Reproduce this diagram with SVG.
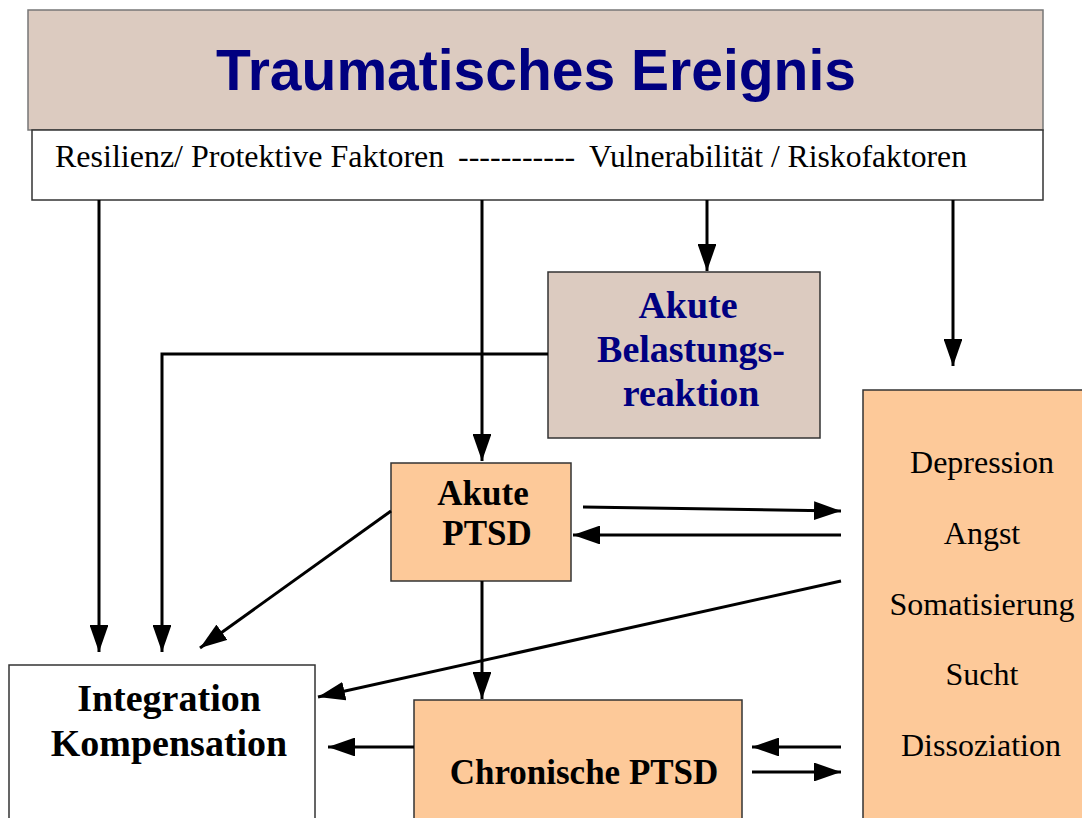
<svg xmlns="http://www.w3.org/2000/svg" width="1082" height="818" viewBox="0 0 1082 818">
<style>
.box{stroke:#333;stroke-width:1.5}
.tan{fill:#dccbc0}
.peach{fill:#fdc999}
.white{fill:#fff}
.ser{font-family:"Liberation Serif","Times New Roman",serif}
.b{font-weight:bold}
.navy{fill:#000080}
.c{text-anchor:middle}
.ln{stroke:#000;stroke-width:3;fill:none}
</style>
<defs>
<marker id="ah" viewBox="0 0 10 7" refX="10" refY="3.5" markerWidth="9" markerHeight="6.3" markerUnits="strokeWidth" orient="auto">
<path d="M0,0 L10,3.5 L0,7 Z" fill="#000"/>
</marker>
</defs>
<g id="title">
<rect class="box tan" x="28" y="10" width="1015" height="120" style="stroke:#777"/>
<text x="536" y="90" class="c b navy" font-family="Liberation Sans, Arial, sans-serif" font-size="57">Traumatisches Ereignis</text>
</g>
<g id="factors">
<rect class="box white" x="32" y="130" width="1011" height="70"/>
<text x="55" y="167" class="ser" font-size="32">Resilienz/ Protektive Faktoren</text>
<text x="458" y="167" class="ser" font-size="32">-----------</text>
<text x="589" y="167" class="ser" font-size="32" textLength="378" lengthAdjust="spacingAndGlyphs">Vulnerabilität / Riskofaktoren</text>
</g>
<g id="abr">
<rect class="box tan" x="548" y="272" width="272" height="166"/>
<text class="ser b navy c" font-size="38"><tspan x="688" y="318">Akute</tspan><tspan x="691" y="362">Belastungs-</tspan><tspan x="691" y="406">reaktion</tspan></text>
</g>
<g id="akute-ptsd">
<rect class="box peach" x="391" y="463" width="180" height="118"/>
<text class="ser b c" font-size="35"><tspan x="483" y="505">Akute</tspan><tspan x="487" y="545">PTSD</tspan></text>
</g>
<g id="komorbid">
<rect class="box peach" x="863" y="390" width="230" height="440"/>
<text class="ser c" font-size="32"><tspan x="982" y="473">Depression</tspan><tspan x="982" y="544">Angst</tspan><tspan x="982" y="615">Somatisierung</tspan><tspan x="982" y="685">Sucht</tspan><tspan x="981" y="756">Dissoziation</tspan></text>
</g>
<g id="integration">
<rect class="box white" x="9" y="665" width="306" height="160"/>
<text class="ser b c" font-size="38"><tspan x="169" y="711">Integration</tspan><tspan x="169" y="756">Kompensation</tspan></text>
</g>
<g id="chron-ptsd">
<rect class="box peach" x="414" y="700" width="328" height="125"/>
<text x="584" y="784" class="ser b c" font-size="35">Chronische PTSD</text>
</g>
<g id="connectors">
<line class="ln" x1="99" y1="200" x2="99" y2="652" marker-end="url(#ah)"/>
<line class="ln" x1="482" y1="200" x2="482" y2="461" marker-end="url(#ah)"/>
<line class="ln" x1="707" y1="200" x2="707" y2="271" marker-end="url(#ah)"/>
<line class="ln" x1="953" y1="200" x2="953" y2="366" marker-end="url(#ah)"/>
<polyline class="ln" points="548,354 162,354 162,652" marker-end="url(#ah)"/>
<line class="ln" x1="391" y1="511" x2="200" y2="648" marker-end="url(#ah)"/>
<line class="ln" x1="583" y1="507" x2="841" y2="511" marker-end="url(#ah)"/>
<line class="ln" x1="841" y1="535" x2="573" y2="535" marker-end="url(#ah)"/>
<line class="ln" x1="841" y1="581" x2="318" y2="697" marker-end="url(#ah)"/>
<line class="ln" x1="482" y1="581" x2="482" y2="699" marker-end="url(#ah)"/>
<line class="ln" x1="414" y1="747" x2="328" y2="747" marker-end="url(#ah)"/>
<line class="ln" x1="841" y1="747" x2="752" y2="747" marker-end="url(#ah)"/>
<line class="ln" x1="752" y1="772" x2="841" y2="772" marker-end="url(#ah)"/>
</g>
</svg>
